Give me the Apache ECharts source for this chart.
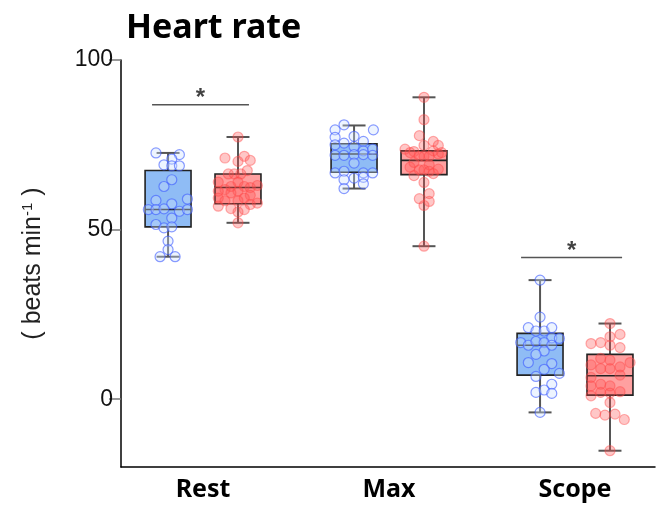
<!DOCTYPE html>
<html>
<head>
<meta charset="utf-8">
<script src="https://cdn.jsdelivr.net/npm/echarts@6/dist/echarts.min.js"></script>
<style>
  html, body { margin: 0; padding: 0; background: #fff; }
  #chart { width: 667px; height: 512px; }
</style>
</head>
<body>
<div id="chart"></div>
<script>
const categories = ["Rest", "Max", "Scope"];
const yTicks = [0, 50, 100];

// box stats per category: [min, Q1, median, Q3, max]
const blueBoxes = [
  [42.0, 50.8, 55.9, 67.4, 72.6],
  [62.1, 66.9, 72.3, 75.3, 80.7],
  [-3.9, 7.1, 15.9, 19.4, 35.1],
];
const redBoxes = [
  [52.0, 57.6, 62.4, 66.4, 77.3],
  [45.1, 66.2, 70.4, 73.2, 89.0],
  [-15.2, 1.2, 6.9, 13.2, 22.3],
];

// individual points: [jitter (category units), value]
const restBlue = [
  [-0.065, 72.6], [0.061, 72.1], [-0.022, 69.1], [0.02, 70.8], [0.02, 68.8], [0.061, 68.8],
  [0.02, 64.7], [-0.022, 62.7], [-0.065, 58.6], [0.02, 57.6], [0.104, 59.0], [-0.106, 55.9],
  [-0.065, 55.9], [-0.022, 56.1], [0.061, 55.4], [0.104, 55.9], [0.02, 53.4], [-0.065, 51.5],
  [-0.022, 50.5], [0.02, 50.8], [0, 46.6], [0, 44.1], [-0.043, 42.0], [0.038, 42.0],
];
const restRed = [
  [0, 77.3], [-0.07, 71.1], [0, 70.1], [0.034, 71.6], [0.066, 70.4], [0.05, 67.4],
  [-0.052, 66.4], [-0.02, 66.4], [0.015, 66.4], [-0.106, 64.0], [0, 64.0], [-0.038, 62.7],
  [0.034, 62.7], [0.066, 62.4], [0.104, 63.0], [-0.07, 61.8], [0, 61.3], [-0.106, 61.3],
  [-0.038, 60.8], [0.066, 60.1], [0.034, 59.3], [-0.106, 59.3], [-0.07, 58.5], [0, 58.5],
  [0.104, 57.8], [0.066, 57.4], [-0.106, 56.9], [-0.038, 56.2], [0, 55.2], [0.034, 55.9],
  [0, 52.0],
];
const maxBlue = [
  [-0.054, 80.9], [0.104, 79.4], [-0.102, 79.4], [-0.102, 77.2], [0, 77.5], [0.05, 76.0],
  [-0.102, 75.0], [-0.054, 75.5], [0, 74.5], [0.05, 73.2], [0.1, 73.7], [-0.102, 71.9],
  [-0.054, 71.9], [0, 72.1], [0.05, 72.1], [0.1, 71.9], [0, 69.6], [-0.102, 66.7],
  [-0.054, 67.2], [0.05, 66.7], [0.1, 66.7], [-0.054, 64.7], [0, 65.2], [0.05, 65.4],
  [-0.054, 62.1], [0.05, 63.5],
];
const maxRed = [
  [0, 89.0], [0, 82.4], [-0.025, 77.7], [0, 74.8], [0.05, 76.0], [0.077, 74.8],
  [-0.102, 73.7], [-0.054, 73.0], [-0.075, 72.7], [0.05, 73.2], [0.095, 72.7], [-0.025, 71.6],
  [0, 71.6], [0.028, 71.6], [0.077, 72.3], [-0.054, 69.8], [0.028, 69.1], [-0.075, 68.4],
  [-0.025, 67.6], [0, 67.6], [0.077, 67.8], [0.028, 67.2], [-0.054, 65.9], [0.05, 66.5],
  [0, 63.9], [0.028, 60.6], [-0.025, 59.1], [0.028, 58.3], [0, 57.1], [0, 45.1],
];
const scopeBlue = [
  [0, 35.1], [0, 24.2], [-0.063, 21.1], [-0.022, 20.1], [0.022, 20.1], [0.063, 21.1],
  [0.063, 18.1], [0.104, 17.9], [-0.104, 16.7], [-0.063, 15.9], [-0.022, 17.0], [0.022, 16.7],
  [0.063, 15.9], [0.022, 14.2], [-0.022, 13.2], [-0.063, 10.8], [0.063, 10.5], [0.022, 8.8],
  [0.104, 7.6], [-0.022, 6.7], [0.063, 4.4], [-0.022, 2.0], [0.022, 2.7], [0.063, 1.7],
  [0, -3.9],
];
const scopeRed = [
  [0, 22.3], [0.054, 19.1], [0, 18.4], [-0.102, 16.4], [-0.05, 16.7], [0, 15.9],
  [0.054, 15.2], [-0.05, 12.0], [0, 11.5], [0.108, 10.8], [-0.102, 10.1], [-0.05, 9.0],
  [0, 9.0], [0.054, 9.5], [0.054, 7.1], [-0.102, 6.4], [-0.102, 3.9], [-0.05, 4.4],
  [0, 3.9], [-0.05, 2.0], [0, 1.8], [0.054, 2.2], [-0.102, 1.0], [0, -1.0],
  [-0.077, -4.2], [-0.027, -4.7], [0.027, -4.4], [0.077, -6.0], [0, -15.2],
];
const bluePoints = [restBlue, maxBlue, scopeBlue];
const redPoints = [restRed, maxRed, scopeRed];

// significance bars: [x from, x to, level]
const sigBars = [
  [0.726, 1.247, 86.8],
  [2.71, 3.253, 41.8],
];

const GROUP_SHIFT = 0.188; // blue left, red right of category centre
const BOX_WIDTH = 0.247;

const BLUE_BOX = "#8fbcf5";
const RED_BOX = "#ffa0a0";

const boxData = [];
categories.forEach((c, i) => {
  boxData.push([i + 1 - GROUP_SHIFT, ...blueBoxes[i], 0]);
  boxData.push([i + 1 + GROUP_SHIFT, ...redBoxes[i], 1]);
});

const toScatter = (groups, shift) =>
  groups.flatMap((pts, i) => pts.map(([dx, v]) => [i + 1 + shift + dx, v]));

const renderBox = (params, api) => {
  const x = api.value(0);
  const lo = api.coord([x, api.value(1)]);
  const q1 = api.coord([x, api.value(2)]);
  const md = api.coord([x, api.value(3)]);
  const q3 = api.coord([x, api.value(4)]);
  const hi = api.coord([x, api.value(5)]);
  const w = api.size([BOX_WIDTH, 0])[0];
  const half = w / 2;
  const cap = w / 4;
  const fill = api.value(6) === 0 ? BLUE_BOX : RED_BOX;
  const whisker = { stroke: "#555", lineWidth: 2 };
  return {
    type: "group",
    children: [
      { type: "line", shape: { x1: lo[0], y1: lo[1], x2: hi[0], y2: hi[1] }, style: whisker },
      { type: "line", shape: { x1: hi[0] - cap, y1: hi[1], x2: hi[0] + cap, y2: hi[1] }, style: whisker },
      { type: "line", shape: { x1: lo[0] - cap, y1: lo[1], x2: lo[0] + cap, y2: lo[1] }, style: whisker },
      {
        type: "rect",
        shape: { x: q3[0] - half, y: q3[1], width: w, height: q1[1] - q3[1] },
        style: { fill: fill, stroke: "#222", lineWidth: 1.6 },
      },
      {
        type: "line",
        shape: { x1: md[0] - half, y1: md[1], x2: md[0] + half, y2: md[1] },
        style: { stroke: "#222", lineWidth: 1.6 },
      },
    ],
  };
};

const chart = echarts.init(document.getElementById("chart"));

const option = {
  animation: false,
  title: {
    text: "Heart rate",
    left: 121,
    top: 6,
    textStyle: { fontFamily: "Noto Sans", fontWeight: "bold", fontSize: 34, color: "#000" },
  },
  grid: { left: 121, right: 12, top: 60, bottom: 45 },
  xAxis: {
    type: "value",
    min: 0.559,
    max: 3.43,
    splitLine: { show: false },
    axisTick: { show: false },
    axisLine: { onZero: false, lineStyle: { color: "#000", width: 1.5 } },
    axisLabel: {
      customValues: [1, 2, 3],
      formatter: (v) => categories[Math.round(v) - 1],
      fontFamily: "Noto Sans",
      fontWeight: "bold",
      fontSize: 25,
      color: "#000",
      margin: 10,
    },
  },
  yAxis: {
    type: "value",
    min: -20,
    max: 100,
    splitLine: { show: false },
    axisLine: { show: true, onZero: false, lineStyle: { color: "#000", width: 1.5 } },
    axisTick: { show: true, customValues: yTicks, length: 12, lineStyle: { color: "#777", width: 1.5 } },
    axisLabel: {
      customValues: yTicks,
      fontFamily: "Liberation Sans",
      fontSize: 23,
      color: "#111",
      margin: 8,
    },
    name: "( beats min{sup|-1} )",
    nameLocation: "middle",
    nameRotate: 90,
    nameGap: 74,
    nameTextStyle: {
      fontFamily: "Liberation Sans",
      fontSize: 25,
      color: "#222",
      rich: {
        sup: { fontFamily: "Liberation Sans", fontSize: 15, color: "#222", verticalAlign: "top", padding: [0, 0, 12, 0] },
      },
    },
  },
  series: [
    {
      type: "custom",
      renderItem: renderBox,
      encode: { x: 0, y: [1, 2, 3, 4, 5] },
      data: boxData,
      z: 2,
    },
    {
      type: "scatter",
      data: toScatter(bluePoints, -GROUP_SHIFT),
      symbolSize: 10,
      itemStyle: { color: "rgba(205,225,255,0.45)", borderColor: "rgba(60,90,255,0.75)", borderWidth: 1.2 },
      z: 3,
    },
    {
      type: "scatter",
      data: toScatter(redPoints, GROUP_SHIFT),
      symbolSize: 10,
      itemStyle: { color: "rgba(255,80,80,0.4)", borderColor: "rgba(255,70,70,0.55)", borderWidth: 1.2 },
      z: 3,
    },
    ...sigBars.map(([a, b, y]) => ({
      type: "line",
      data: [[a, y], [b, y]],
      symbol: "none",
      lineStyle: { color: "#555", width: 1.5 },
      z: 4,
    })),
    {
      type: "scatter",
      data: sigBars.map(([a, b, y]) => [(a + b) / 2, y]),
      symbolSize: 0,
      label: {
        show: true,
        position: "top",
        distance: -6,
        formatter: "*",
        fontFamily: "Liberation Sans",
        fontWeight: "bold",
        fontSize: 24,
        color: "#111",
      },
      z: 4,
    },
  ],
};

chart.setOption(option);
window.addEventListener("resize", () => chart.resize());
</script>
</body>
</html>
